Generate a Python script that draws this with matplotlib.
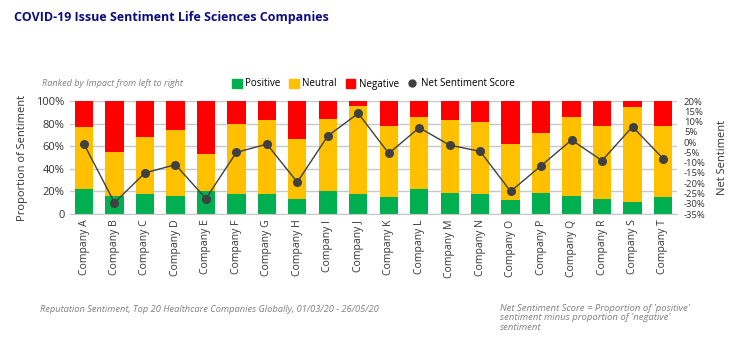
import numpy as np
import matplotlib.pyplot as plt
from matplotlib.lines import Line2D
from matplotlib.patches import Patch

plt.rcParams['font.family'] = ['Open Sans', 'DejaVu Sans']

companies = ['Company ' + c for c in 'ABCDEFGHIJKLMNOPQRST']
positive = [22, 16, 18, 16, 20, 18, 18, 13, 20, 18, 15, 22, 19, 18, 12, 19, 16, 13, 11, 15]
neutral = [55, 39, 50, 58, 33, 62, 65, 53, 64, 78, 63, 64, 64, 63, 50, 53, 70, 65, 84, 63]
negative = [23, 45, 32, 26, 47, 20, 17, 34, 16, 4, 22, 14, 17, 19, 38, 28, 14, 22, 5, 22]
net_score = [-1, -29.5, -15, -11, -27.5, -5, -1, -19.5, 3, 14, -5.5, 7, -1.5, -4.5, -24, -11.5, 1, -9, 7.5, -8]

GREEN = '#00B050'
YELLOW = '#FFC000'
RED = '#FF0000'
DARK = '#404040'
GREY_TXT = '#808080'

fig = plt.figure(figsize=(7.45, 3.53), dpi=100)
ax = fig.add_axes([70/745, 1 - 214/353, (677 - 70)/745, 113/353])

x = np.arange(len(companies))
pos = np.array(positive)
neu = np.array(neutral)
neg = np.array(negative)
w = 0.6
ax.bar(x, pos, w, color=GREEN, zorder=2)
ax.bar(x, neu, w, bottom=pos, color=YELLOW, zorder=2)
ax.bar(x, neg, w, bottom=pos + neu, color=RED, zorder=2)

ax.set_xlim(-0.46, len(companies) - 0.54)
ax.set_ylim(0, 100)
ax.set_yticks([0, 20, 40, 60, 80, 100])
ax.set_yticklabels(['0', '20%', '40%', '60%', '80%', '100%'], fontsize=8, color='#333333')
ax.yaxis.grid(True, color='#c8c8c8', linewidth=1, zorder=0)
ax.set_axisbelow(True)
ax.set_xticks(x)
ax.set_xticklabels(companies, rotation=90, fontsize=7.5, color='#333333')
ax.tick_params(length=0, pad=4)
for s in ['top', 'right', 'left']:
    ax.spines[s].set_visible(False)
ax.spines['bottom'].set_color('#c8c8c8')
ax.set_ylabel('Proportion of Sentiment', fontsize=8, color='#333333', labelpad=6)

ax2 = ax.twinx()
ax2.plot(x, net_score, color=DARK, linewidth=1, marker='o', markersize=5.5, zorder=5)
ax2.set_ylim(-35, 20)
ticks = np.arange(20, -36, -5)
ax2.set_yticks(ticks)
ax2.set_yticklabels([f'{t}%' for t in ticks], fontsize=6.8, color='#333333')
ax2.tick_params(length=0, pad=5)
for s in ax2.spines.values():
    s.set_visible(False)
ax2.set_ylabel('Net Sentiment', fontsize=8, color='#333333', labelpad=8)

fig.text(14/745, 1 - 18/353, 'COVID-19 Issue Sentiment Life Sciences Companies',
         fontsize=9, fontweight='bold', color='#0d0d80', va='center', ha='left')
fig.text(42/745, 1 - 84/353, 'Ranked by Impact from left to right',
         fontsize=6.6, style='italic', color=GREY_TXT, va='center', ha='left')

handles = [Patch(color=GREEN), Patch(color=YELLOW), Patch(color=RED),
           Line2D([], [], color=DARK, marker='o', linestyle='none', markersize=5)]
fig.legend(handles, ['Positive', 'Neutral', 'Negative', 'Net Sentiment Score'],
           loc='center left', bbox_to_anchor=(232/745, 1 - 84/353), ncol=4, frameon=False,
           fontsize=7, handlelength=1.0, handleheight=1.0, handletextpad=0.35,
           columnspacing=0.9, borderaxespad=0, borderpad=0)

fig.text(40/745, 1 - 310/353,
         'Reputation Sentiment, Top 20 Healthcare Companies Globally, 01/03/20 - 26/05/20',
         fontsize=6.7, style='italic', color=GREY_TXT, va='center', ha='left')
fig.text(500/745, 1 - 304/353,
         "Net Sentiment Score = Proportion of 'positive'\nsentiment minus proportion of 'negative'\nsentiment",
         fontsize=6.8, style='italic', color=GREY_TXT, va='top', ha='left', linespacing=1.05)

fig.savefig('out.png', dpi=100)
